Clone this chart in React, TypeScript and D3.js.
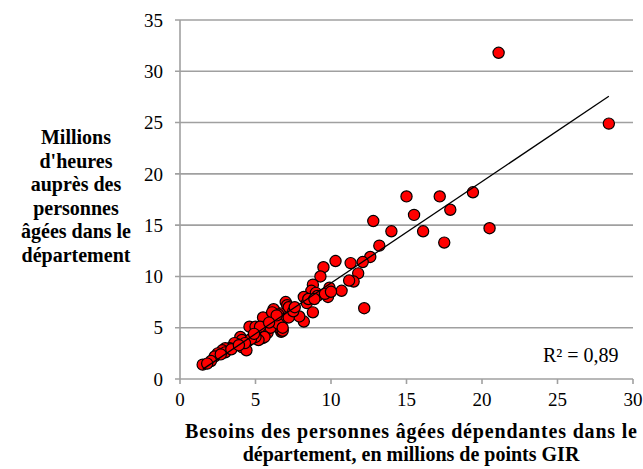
import React from 'react';
import * as d3 from 'd3';

// Besoins (millions de points GIR) per département
const besoins = [
  21.1, 28.4, 19.4, 17.2, 15.0, 17.9, 15.5, 12.8, 14.0, 16.1, 20.5, 17.5, 13.2,
  12.6, 12.1, 11.3, 10.3, 11.8, 11.5, 11.2, 10.7, 12.2, 9.9, 9.8, 9.5, 9.3, 8.8,
  8.7, 9.0, 9.1, 8.2, 8.4, 8.8, 8.2, 7.9, 7.0, 7.1, 7.2, 6.6, 6.7, 6.2, 6.5, 6.8,
  7.2, 5.5, 6.1, 5.6, 6.4, 6.7, 4.6, 5.0, 5.2, 5.8, 6.8, 5.5, 6.0, 6.2, 6.5, 6.8,
  6.1, 6.4, 5.3, 5.6, 5.2, 5.0, 4.0, 4.1, 4.5, 4.4, 4.1, 3.8, 3.6, 3.3, 3.0, 2.8,
  2.5, 2.3, 2.05, 1.5, 3.0, 2.7, 3.4, 4.7, 4.9, 5.9, 7.5, 7.6, 8.5, 9.6, 10.0, 8.9,
  4.3, 3.9, 1.8,
];
// Millions d'heures auprès des personnes âgées
const heures = [
  31.8, 24.9, 18.2, 17.8, 17.8, 16.5, 16.0, 15.4, 14.4, 14.4, 14.7, 13.3, 13.0,
  11.9, 11.4, 11.3, 11.5, 10.3, 9.5, 9.6, 8.6, 6.9, 8.9, 8.0, 10.9, 10.0, 9.2,
  8.6, 8.4, 8.1, 8.0, 7.4, 6.5, 5.6, 6.1, 7.5, 7.2, 7.0, 6.4, 4.6, 6.8, 6.3, 5.8,
  6.0, 6.0, 5.6, 5.1, 5.1, 4.8, 5.1, 5.1, 4.6, 4.5, 4.7, 4.0, 5.0, 5.8, 5.4, 5.0,
  6.5, 6.2, 5.1, 4.1, 3.8, 4.1, 4.1, 3.1, 3.7, 2.8, 3.8, 3.4, 3.5, 3.0, 3.0, 2.8,
  2.5, 2.2, 1.75, 1.4, 2.6, 2.4, 2.9, 3.9, 4.4, 5.5, 6.6, 7.0, 7.8, 8.3, 8.5, 7.8,
  3.5, 3.3, 1.5,
];

const xTicks = [0, 5, 10, 15, 20, 25, 30];
const yTicks = [0, 5, 10, 15, 20, 25, 30, 35];
const yTitle = ['Millions', "d'heures", 'auprès des', 'personnes', 'âgées dans le', 'département'];
const xTitle = ['Besoins des personnes âgées dépendantes dans le', 'département, en millions de points GIR'];
const r2Label = 'R² = 0,89';

const W = 643;
const H = 469;
const serif = "'Liberation Serif', serif";

export default function App() {
  const x = d3.scaleLinear().domain([0, 30]).range([180, 633]);
  const y = d3.scaleLinear().domain([0, 35]).range([379, 20]);

  const pts = besoins.map((b, i) => ({ b, h: heures[i] }));

  // least squares trend line, drawn over the range of the data
  const mx = d3.mean(besoins)!;
  const my = d3.mean(heures)!;
  let sxy = 0;
  let sxx = 0;
  pts.forEach((p) => {
    sxy += (p.b - mx) * (p.h - my);
    sxx += (p.b - mx) * (p.b - mx);
  });
  const slope = sxy / sxx;
  const icpt = my - slope * mx;
  const [x0, x1] = d3.extent(besoins) as [number, number];
  const trend = d3.line<number>()
    .x((v) => x(v))
    .y((v) => y(icpt + slope * v));

  const grid = '#a0a0a0';

  return (
    <svg
      width={W}
      height={H}
      style={{ position: 'absolute', left: 0, top: 0, background: '#fff', fontFamily: serif }}
    >
      {yTicks.map((t) => (
        <g key={'y' + t}>
          <line x1={175} x2={x(30)} y1={y(t)} y2={y(t)} stroke={grid} strokeWidth={1.6} />
          <text x={163} y={y(t)} dy="0.35em" textAnchor="end" fontSize={19}>
            {t}
          </text>
        </g>
      ))}
      <line x1={x(0)} x2={x(0)} y1={y(35)} y2={y(0)} stroke={grid} strokeWidth={1.6} />
      {xTicks.map((t) => (
        <g key={'x' + t}>
          <line x1={x(t)} x2={x(t)} y1={y(0)} y2={y(0) + 5} stroke={grid} strokeWidth={1.6} />
          <text x={x(t)} y={y(0) + 27} textAnchor="middle" fontSize={19}>
            {t}
          </text>
        </g>
      ))}

      {pts.map((p, i) => (
        <circle key={i} cx={x(p.b)} cy={y(p.h)} r={5.6} fill="#ff0000" stroke="#000" strokeWidth={1.2} />
      ))}

      <path d={trend([x0, x1]) || ''} fill="none" stroke="#000" strokeWidth={1.3} />

      <text x={543} y={362} fontSize={20}>
        {r2Label}
      </text>

      {yTitle.map((s, i) => (
        <text key={s} x={76} y={144 + i * 23.6} textAnchor="middle" fontSize={20} fontWeight="bold">
          {s}
        </text>
      ))}
      {xTitle.map((s, i) => (
        <text
          key={s}
          x={411}
          y={438 + i * 23}
          textAnchor="middle"
          fontSize={20}
          fontWeight="bold"
          textLength={i === 0 ? 452 : undefined}
          lengthAdjust="spacing"
        >
          {s}
        </text>
      ))}
    </svg>
  );
}
